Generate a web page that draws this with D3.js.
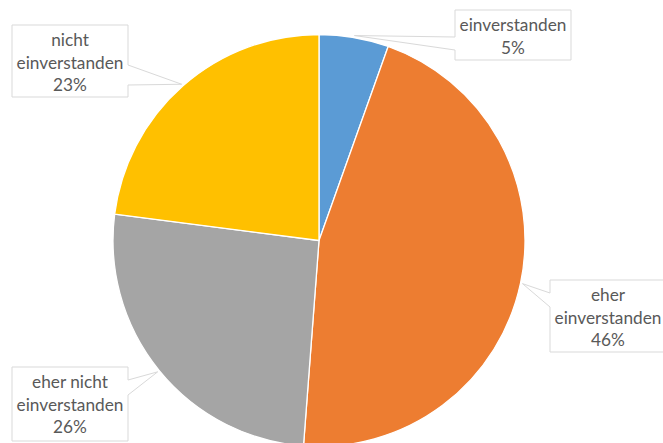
<!DOCTYPE html>
<html>
<head>
<meta charset="utf-8">
<script src="https://cdn.jsdelivr.net/npm/d3@7"></script>
<style>
  html, body { margin: 0; padding: 0; background: #ffffff; }
  svg { display: block; overflow: hidden; }
</style>
</head>
<body>
<svg id="chart" width="663" height="443"></svg>
<script>
// ---- data ----
const categories = ["einverstanden", "eher einverstanden", "eher nicht einverstanden", "nicht einverstanden"];
const values = [5.45, 45.75, 25.85, 22.95];
const colors = ["#5B9BD5", "#ED7D31", "#A5A5A5", "#FFC000"];

// ---- layout ----
const W = 663, H = 443;
const cx = 319, cy = 240.5, R = 206;
const labelBoxes = [
  { x: 455, y: 10,  w: 116, h: 50, side: "left",  b1: 37,  b2: 50 },
  { x: 550, y: 280, w: 116, h: 72, side: "left",  b1: 293, b2: 307 },
  { x: 12,  y: 367, w: 116, h: 74, side: "right", b1: 380, b2: 395 },
  { x: 12,  y: 25,  w: 116, h: 72, side: "right", b1: 65,  b2: 85 }
];
const fontFamily = "Lato, 'Open Sans', sans-serif";
const textColor = "#595959";

const svg = d3.select("#chart");
const g = svg.append("g").attr("transform", `translate(${cx},${cy})`);

const pie = d3.pie().sort(null).value(d => d);
const arcs = pie(values);
const arc = d3.arc().innerRadius(0).outerRadius(R);
const tipArc = d3.arc().innerRadius(R + 2).outerRadius(R + 2);

g.selectAll("path.slice")
  .data(arcs)
  .enter().append("path")
  .attr("class", "slice")
  .attr("d", arc)
  .attr("fill", (d, i) => colors[i])
  .attr("stroke", "#ffffff")
  .attr("stroke-width", 1.3)
  .attr("stroke-linejoin", "round");

// font size so that "einverstanden" is ~107px wide
const probe = svg.append("text").attr("font-family", fontFamily).attr("font-size", 20).text("einverstanden");
const pw = probe.node().getComputedTextLength();
probe.remove();
const fontSize = 20 * 107 / pw;

function wrap(text, maxW) {
  const words = text.split(" ");
  const lines = [];
  let cur = "";
  const t = svg.append("text").attr("font-family", fontFamily).attr("font-size", fontSize);
  words.forEach(w => {
    const test = cur ? cur + " " + w : w;
    t.text(test);
    if (t.node().getComputedTextLength() > maxW && cur) { lines.push(cur); cur = w; }
    else cur = test;
  });
  if (cur) lines.push(cur);
  t.remove();
  return lines;
}

const labels = svg.append("g");
arcs.forEach((a, i) => {
  const b = labelBoxes[i];
  const c = tipArc.centroid(a);
  const tx = cx + c[0], ty = cy + c[1];
  let p;
  if (b.side === "right") {
    const xr = b.x + b.w;
    p = `M${b.x},${b.y}H${xr}V${b.b1}L${tx},${ty}L${xr},${b.b2}V${b.y + b.h}H${b.x}Z`;
  } else {
    p = `M${b.x},${b.y}H${b.x + b.w}V${b.y + b.h}H${b.x}V${b.b2}L${tx},${ty}L${b.x},${b.b1}Z`;
  }
  labels.append("path")
    .attr("d", p)
    .attr("fill", "#ffffff")
    .attr("stroke", "#D9D9D9")
    .attr("stroke-width", 1);

  const pct = Math.round(values[i]) + "%";
  const lines = wrap(categories[i], 112).concat([pct]);
  const t = labels.append("text")
    .attr("font-family", fontFamily)
    .attr("font-size", fontSize)
    .attr("fill", textColor)
    .attr("text-anchor", "middle");
  lines.forEach((ln, k) => {
    t.append("tspan")
      .attr("x", b.x + b.w / 2)
      .attr("y", b.y + 21 + k * 22.5)
      .text(ln);
  });
});
</script>
</body>
</html>
